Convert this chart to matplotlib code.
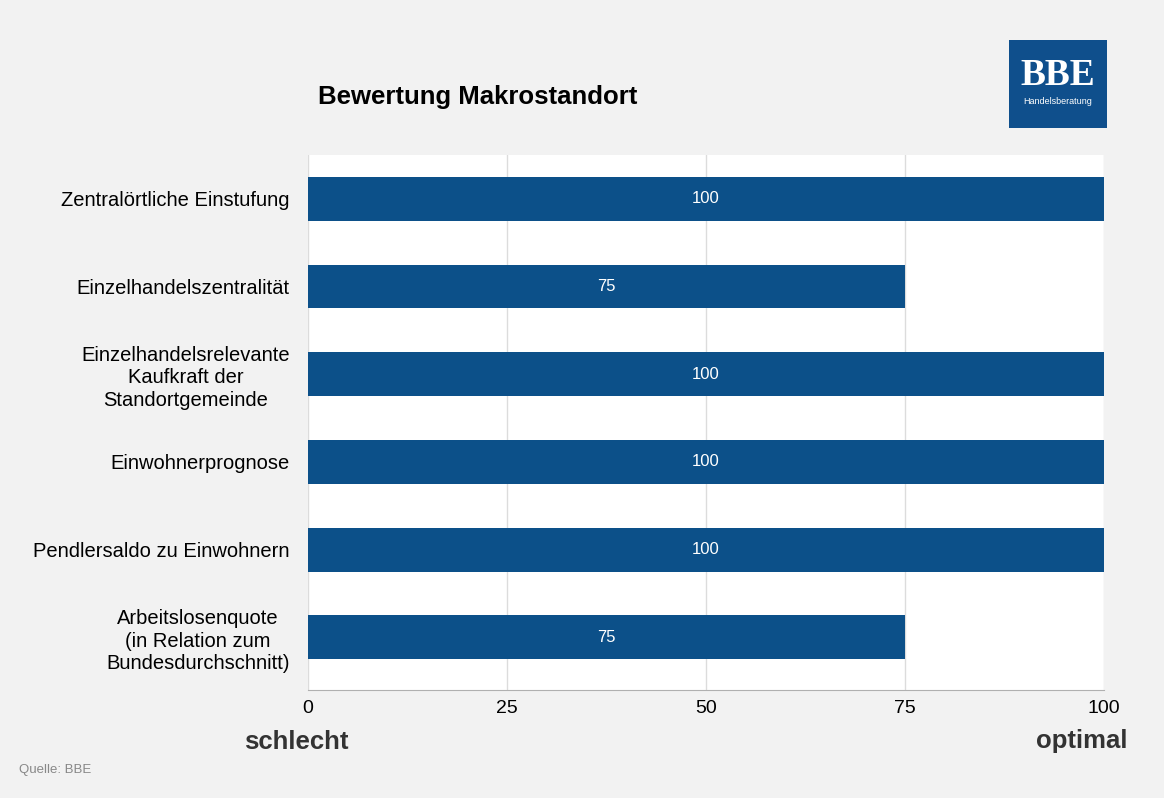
import matplotlib.pyplot as plt
from matplotlib.patches import Rectangle

plt.rcParams['font.family'] = ['Liberation Sans', 'DejaVu Sans']

# data
categories = ['Zentralörtliche Einstufung',
              'Einzelhandelszentralität',
              'Einzelhandelsrelevante\nKaufkraft der\nStandortgemeinde',
              'Einwohnerprognose',
              'Pendlersaldo zu Einwohnern',
              'Arbeitslosenquote\n(in Relation zum\nBundesdurchschnitt)']
values = [100, 75, 100, 100, 100, 75]
xticks = [0, 25, 50, 75, 100]

bar_color = '#0c5089'

fig = plt.figure(figsize=(11.64, 7.98), dpi=100)
fig.patch.set_facecolor('#f2f2f2')

ax = fig.add_axes([0.2646, 0.1353, 0.6839, 0.6705])
ax.set_facecolor('white')

y = range(len(categories))
ax.barh(y, values, height=0.5, color=bar_color, zorder=3)
for i, v in enumerate(values):
    ax.text(v / 2, i, str(v), color='white', ha='center', va='center',
            fontsize=12, zorder=4)

ax.set_xlim(0, 100)
ax.set_ylim(5.6, -0.5)
ax.set_yticks(list(y))
ax.set_yticklabels(categories, fontsize=14.5, linespacing=1.22)
ax.set_xticks(xticks)
ax.set_xticklabels([str(t) for t in xticks], fontsize=14)
ax.tick_params(length=0)
ax.tick_params(axis='y', pad=13)
ax.tick_params(axis='x', pad=7)
for t in ax.get_yticklabels():
    t.set_multialignment('center')
ax.grid(axis='x', color='#dcdcdc', linewidth=1, zorder=1)
for s in ax.spines.values():
    s.set_visible(False)
ax.spines['bottom'].set_visible(True)
ax.spines['bottom'].set_color('#b0b0b0')

# title
fig.text(0.273, 0.878, 'Bewertung Makrostandort', fontsize=18.5,
         fontweight='bold', ha='left', va='center')

# logo
fig.patches.append(Rectangle((0.8668, 0.840), 0.0842, 0.110,
                             transform=fig.transFigure, facecolor='#0f4f8c',
                             edgecolor='none'))
fig.text(0.9085, 0.905, 'BBE', fontsize=27, fontweight='bold', color='white',
         ha='center', va='center', family=['Liberation Serif', 'DejaVu Serif'])
fig.text(0.9085, 0.873, 'Handelsberatung', fontsize=6.5, color='white',
         ha='center', va='center')

# bottom labels
fig.text(0.210, 0.070, 'schlecht', fontsize=18.5, fontweight='bold',
         color='#333333', ha='left', va='center')
fig.text(0.969, 0.072, 'optimal', fontsize=18.5, fontweight='bold',
         color='#333333', ha='right', va='center')
fig.text(0.016, 0.035, 'Quelle: BBE', fontsize=9.5, color='#888888',
         ha='left', va='center')

fig.savefig('out.png', dpi=100, facecolor=fig.get_facecolor())
